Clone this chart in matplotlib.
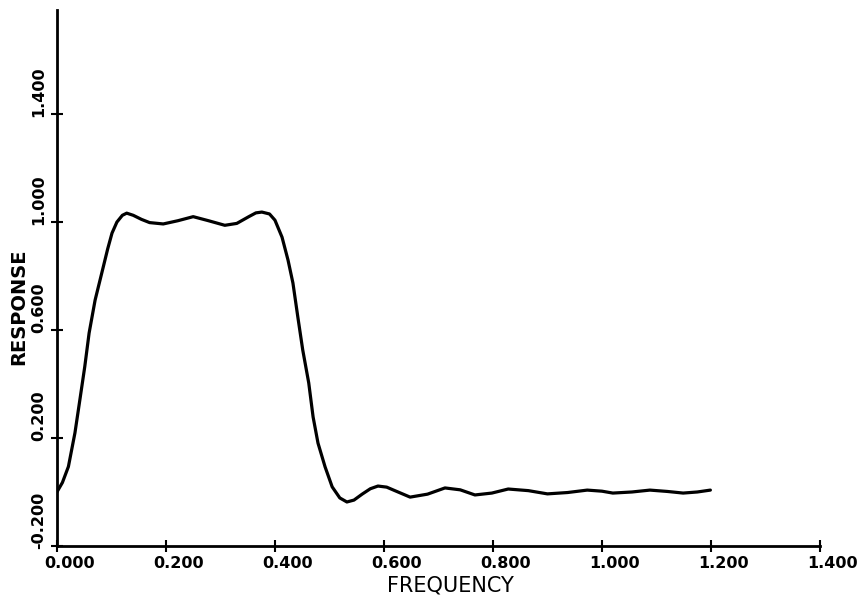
from matplotlib import pyplot as plt
from matplotlib.transforms import ScaledTranslation

freq = [0.000, 0.010, 0.021, 0.033, 0.042, 0.051, 0.059, 0.070, 0.085, 0.093,
        0.101, 0.110, 0.120, 0.128, 0.140, 0.155, 0.170, 0.195, 0.222, 0.250,
        0.278, 0.308, 0.330, 0.352, 0.365, 0.376, 0.390, 0.400, 0.413, 0.424,
        0.433, 0.442, 0.451, 0.462, 0.470, 0.479, 0.492, 0.505, 0.519, 0.532,
        0.545, 0.560, 0.575, 0.589, 0.605, 0.620, 0.648, 0.680, 0.712, 0.740,
        0.767, 0.798, 0.828, 0.865, 0.900, 0.937, 0.973, 1.000, 1.020, 1.055,
        1.088, 1.120, 1.149, 1.175, 1.199]
reponse = [0.000, 0.035, 0.094, 0.219, 0.341, 0.464, 0.589, 0.711, 0.834, 0.900,
           0.959, 1.000, 1.025, 1.033, 1.025, 1.010, 0.998, 0.993, 1.005, 1.020,
           1.005, 0.988, 0.995, 1.020, 1.034, 1.037, 1.030, 1.007, 0.944, 0.859,
           0.774, 0.648, 0.526, 0.404, 0.278, 0.181, 0.093, 0.019, -0.022, -0.037,
           -0.030, -0.008, 0.012, 0.022, 0.018, 0.005, -0.019, -0.008, 0.015, 0.008,
           -0.011, -0.004, 0.011, 0.005, -0.007, -0.002, 0.007, 0.003, -0.004, 0.000,
           0.007, 0.002, -0.004, 0.000, 0.007]

xticks = [0.0, 0.2, 0.4, 0.6, 0.8, 1.0, 1.2, 1.4]
xlabels = ['0.000', '0.200', '0.400', '0.600', '0.800', '1.000', '1.200', '1.400']
yticks = [-0.2, 0.2, 0.6, 1.0, 1.4]
ylabels = ['-0.200', '0.200', '0.600', '1.000', '1.400']

fig = plt.figure(figsize=(8.67, 5.98), dpi=100)
ax = fig.add_axes([0.0657, 0.087, 0.880, 0.896])

ax.plot(freq, reponse, color='black', linewidth=2.3, solid_capstyle='round')

ax.set_xlim(0.0, 1.4)
ax.set_ylim(-0.2, 1.785)
for s in ['top', 'right']:
    ax.spines[s].set_visible(False)
for s in ['left', 'bottom']:
    ax.spines[s].set_linewidth(2.0)

ax.set_xticks(xticks)
ax.set_xticklabels(xlabels, fontsize=11.5, fontweight='bold')
ax.set_yticks(yticks)
ax.set_yticklabels(ylabels, fontsize=11.5, fontweight='bold', rotation=90, va='bottom')
ax.tick_params(direction='inout', length=8, width=1.5)
ax.tick_params(axis='x', pad=3)
ax.tick_params(axis='y', pad=4)

# decalage des etiquettes comme sur l'original
for lbl in ax.get_xticklabels():
    lbl.set_transform(lbl.get_transform() + ScaledTranslation(0.13, 0, fig.dpi_scale_trans))
for lbl in ax.get_yticklabels():
    lbl.set_transform(lbl.get_transform() + ScaledTranslation(0, -0.03, fig.dpi_scale_trans))

fig.text(19 / 867, 1 - 307 / 598, 'RESPONSE', rotation=90, fontsize=14,
         fontweight='bold', ha='center', va='center')
fig.text(450 / 867, 1 - 586 / 598, 'FREQUENCY', fontsize=15,
         ha='center', va='center')

fig.savefig('out.png', dpi=100)
